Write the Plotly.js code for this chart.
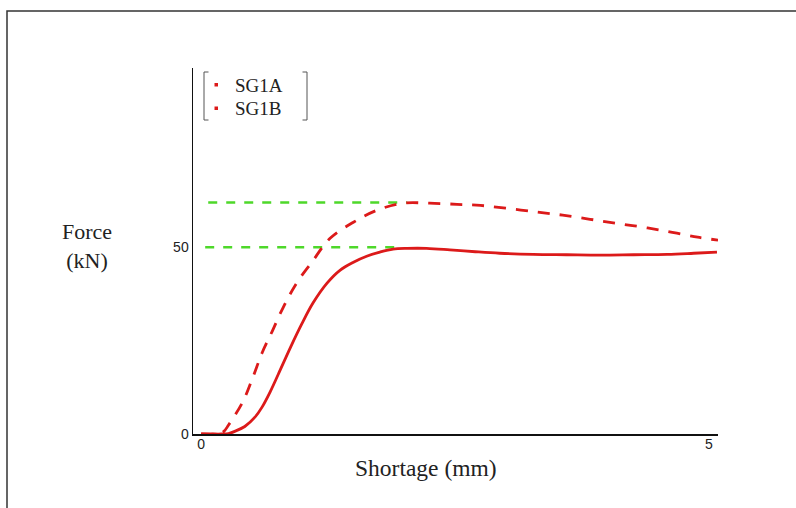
<!DOCTYPE html>
<html><head><meta charset="utf-8">
<script src="https://cdn.plot.ly/plotly-3.0.1.min.js"></script>
<style>html,body{margin:0;padding:0;background:#fff}#chart{width:796px;height:508px}</style>
</head><body><div id="chart"></div>
<script>
// SG1A (solid)
const sg1aX = [0, 0.1, 0.2, 0.27, 0.33, 0.43, 0.53, 0.60, 0.68, 0.76, 0.88, 0.99, 1.10, 1.24, 1.37, 1.50, 1.63, 1.76, 1.89, 2.03, 2.22, 2.45, 2.70, 2.94, 3.27, 3.60, 3.93, 4.26, 4.59, 4.85, 5.08];
const sg1aY = [0, 0, 0, 0.1, 0.7, 2.0, 4.5, 7.2, 11.3, 16.0, 23.2, 29.4, 35.0, 40.4, 43.9, 46.0, 47.6, 48.7, 49.5, 49.7, 49.7, 49.3, 48.8, 48.4, 48.1, 48.0, 47.9, 48.0, 48.1, 48.4, 48.7];
// SG1B (dashed)
const sg1bX = [0, 0.15, 0.22, 0.27, 0.41, 0.51, 0.60, 0.70, 0.81, 0.94, 1.09, 1.27, 1.50, 1.73, 1.99, 2.25, 2.52, 2.75, 3.02, 3.31, 3.56, 3.83, 4.09, 4.37, 4.64, 4.89, 5.09];
const sg1bY = [0, 0, 0.6, 2.4, 8.6, 15.2, 21.7, 27.5, 34.0, 40.4, 46.0, 52.4, 56.7, 59.9, 61.8, 61.8, 61.5, 61.2, 60.4, 59.4, 58.6, 57.5, 56.4, 55.3, 54.0, 52.7, 51.9];
// green reference levels
const refUpperX = [0.07, 2.03];
const refUpperY = [62, 62];
const refLowerX = [0.04, 1.98];
const refLowerY = [50, 50];
// ticks
const xTickVals = [0, 5];
const xTickText = ['0', '5'];
const yTickVals = [0, 50];
const yTickText = ['0', '50'];
const seriesNames = ['SG1A', 'SG1B'];

const RED = '#dc1a1a';
const GREEN = '#4ed82a';

// plot area in pixels
const L = 193, R = 718, T = 68, B = 434;
const px = v => (v - L) / (R - L);
const py = v => (B - v) / (B - T);

const traces = [
  {x: refUpperX, y: refUpperY, mode: 'lines', line: {color: GREEN, width: 2.5, dash: '9px,9px'}, showlegend: false, hoverinfo: 'skip'},
  {x: refLowerX, y: refLowerY, mode: 'lines', line: {color: GREEN, width: 2.5, dash: '9px,9px'}, showlegend: false, hoverinfo: 'skip'},
  {x: sg1aX, y: sg1aY, mode: 'lines', line: {color: RED, width: 2.8, shape: 'spline', smoothing: 1}, showlegend: false, name: seriesNames[0]},
  {x: sg1bX, y: sg1bY, mode: 'lines', line: {color: RED, width: 2.8, dash: '12px,10px', shape: 'spline', smoothing: 1}, showlegend: false, name: seriesNames[1]}
];

const serif = 'Liberation Serif, Times New Roman, serif';
const bracketColor = '#555';
const legendText = [85, 108];
const layout = {
  width: 796, height: 508,
  margin: {l: L, r: 796 - R, t: T, b: 508 - B, pad: 0},
  paper_bgcolor: '#fff', plot_bgcolor: '#fff',
  font: {family: 'Liberation Sans, Arial, sans-serif', size: 14, color: '#222'},
  showlegend: false,
  xaxis: {
    range: [-0.08, 5.09], showgrid: false, zeroline: false,
    showline: true, linecolor: '#111', linewidth: 1.5,
    tickvals: xTickVals, ticktext: xTickText, ticks: '',
    ticklabelstandoff: -3,
    tickfont: {family: 'Liberation Sans, Arial, sans-serif', size: 14, color: '#222'}
  },
  yaxis: {
    range: [0, 98], showgrid: false, zeroline: false,
    showline: true, linecolor: '#111', linewidth: 1.5,
    tickvals: yTickVals, ticktext: yTickText, ticks: '',
    ticklabelstandoff: 0,
    tickfont: {family: 'Liberation Sans, Arial, sans-serif', size: 14, color: '#222'}
  },
  annotations: [
    {xref: 'paper', yref: 'paper', x: px(426), y: py(468), text: 'Shortage (mm)', showarrow: false,
     font: {family: serif, size: 23.5, color: '#222'}, xanchor: 'center', yanchor: 'middle'},
    {xref: 'paper', yref: 'paper', x: px(87), y: py(246), text: 'Force<br>(kN)', showarrow: false, align: 'center',
     font: {family: serif, size: 22, color: '#222'}, xanchor: 'center', yanchor: 'middle'},
    {xref: 'paper', yref: 'paper', x: px(233), y: py(legendText[0]), text: seriesNames[0], showarrow: false,
     font: {family: serif, size: 19, color: '#222'}, xanchor: 'left', yanchor: 'middle'},
    {xref: 'paper', yref: 'paper', x: px(233), y: py(legendText[1]), text: seriesNames[1], showarrow: false,
     font: {family: serif, size: 19, color: '#222'}, xanchor: 'left', yanchor: 'middle'}
  ],
  shapes: [
    // outer frame (left and top edges)
    {type: 'path', xref: 'paper', yref: 'paper', path: `M ${px(7)} ${py(510)} L ${px(7)} ${py(11)} L ${px(800)} ${py(11)}`, line: {color: '#333', width: 1.5}},
    // legend brackets
    {type: 'path', xref: 'paper', yref: 'paper', path: `M ${px(208.5)} ${py(72)} L ${px(204)} ${py(72)} L ${px(204)} ${py(120)} L ${px(208.5)} ${py(120)}`, line: {color: bracketColor, width: 1}},
    {type: 'path', xref: 'paper', yref: 'paper', path: `M ${px(302.5)} ${py(72)} L ${px(307)} ${py(72)} L ${px(307)} ${py(120)} L ${px(302.5)} ${py(120)}`, line: {color: bracketColor, width: 1}},
    // legend symbols
    {type: 'rect', xref: 'paper', yref: 'paper', x0: px(214.5), x1: px(218), y0: py(83), y1: py(86.5), line: {width: 0}, fillcolor: RED},
    {type: 'rect', xref: 'paper', yref: 'paper', x0: px(214.5), x1: px(218), y0: py(106.5), y1: py(110), line: {width: 0}, fillcolor: RED}
  ]
};

Plotly.newPlot('chart', traces, layout, {displayModeBar: false, staticPlot: true});
</script>
</body></html>
